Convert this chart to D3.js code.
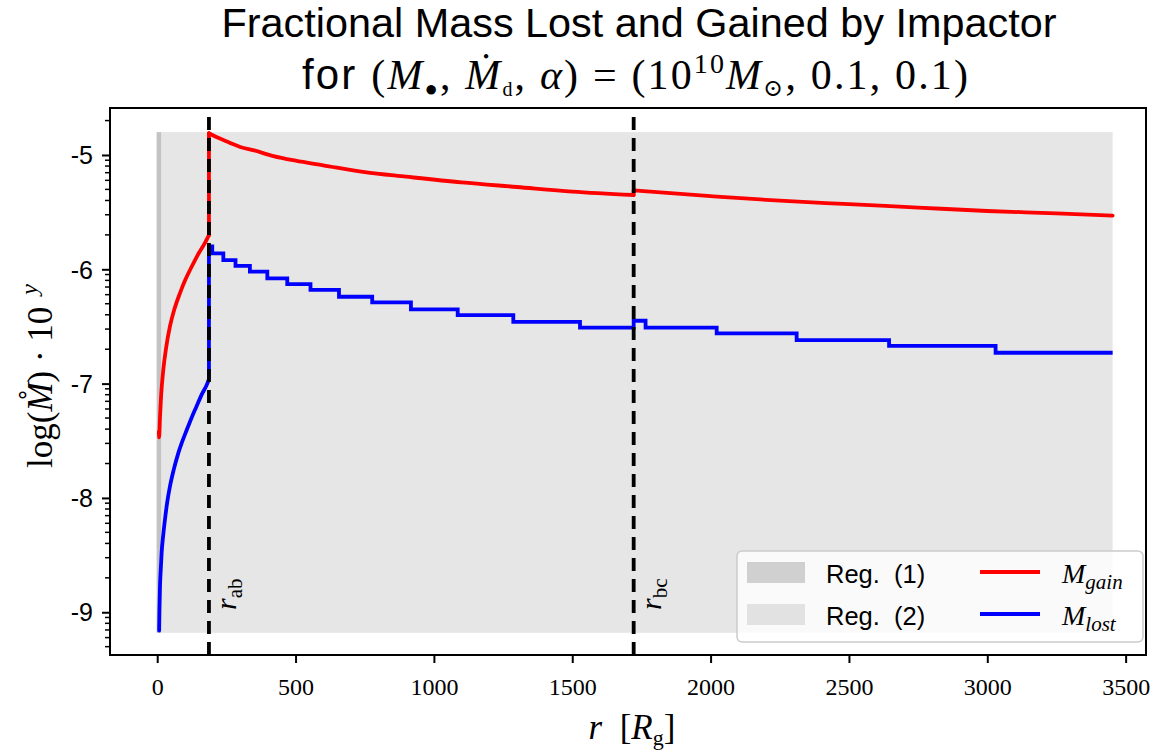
<!DOCTYPE html>
<html><head><meta charset="utf-8">
<script src="https://cdn.jsdelivr.net/npm/d3@7"></script>
<style>body{margin:0;background:#fff}</style>
</head><body><svg id="c" width="1167" height="753"></svg>
<script>
// ---- data ----
const xTicks = [0, 500, 1000, 1500, 2000, 2500, 3000, 3500];
const yTicks = [-9, -8, -7, -6, -5];
const yTickLabels = ["-9", "-8", "-7", "-6", "-5"];
const rAB = 187, rBC = 1722;
const region1R = [-2, 14];
const region2R = [-2, 3453];
const regionV = [-9.18, -4.80];
// M_gain: inner part (r < r_ab) and outer part
const gainInnerR = [6, 7, 10, 14, 22, 32, 46, 62, 82, 102, 124, 150, 170, 187];
const gainInnerV = [-7.42, -7.47, -7.30, -7.11, -6.88, -6.69, -6.50, -6.35, -6.21, -6.09, -5.98, -5.86, -5.78, -5.70];
const gainOuterR = [187, 187, 220, 260, 300, 350, 420, 500, 600, 750, 900, 1100, 1300, 1500, 1722, 1722, 2000, 2250, 2500, 2750, 3000, 3250, 3453];
const gainOuterV = [-5.70, -4.81, -4.85, -4.89, -4.93, -4.96, -5.01, -5.05, -5.09, -5.15, -5.19, -5.24, -5.28, -5.32, -5.35, -5.31, -5.36, -5.40, -5.43, -5.46, -5.49, -5.51, -5.53];
// M_lost: inner curve and outer staircase
const lostInnerR = [7, 8, 10, 13, 16, 22, 28, 36, 46, 60, 76, 90, 106, 124, 142, 162, 181, 187];
const lostInnerV = [-9.16, -9.00, -8.78, -8.62, -8.48, -8.32, -8.19, -8.04, -7.90, -7.75, -7.61, -7.51, -7.41, -7.30, -7.20, -7.09, -7.00, -6.96];
const lostStepR = [187, 187, 199, 239, 283, 335, 398, 470, 554, 657, 777, 917, 1086, 1287, 1528, 1722, 1765, 2022, 2311, 2645, 3030, 3453];
const lostStepV = [-6.96, -5.80, -5.86, -5.92, -5.97, -6.02, -6.08, -6.13, -6.18, -6.24, -6.29, -6.35, -6.40, -6.46, -6.51, -6.45, -6.51, -6.56, -6.62, -6.67, -6.73, -6.73];

// ---- layout ----
const svg = d3.select("#c");
const L = 110, R = 1146, T = 108, B = 655;
const x = d3.scaleLinear().domain([-170.6, 3573.6]).range([L, R]);
const y = d3.scaleLinear().domain([-9.374, -4.589]).range([B, T]);
const SERIF = "'Liberation Serif', 'DejaVu Serif', serif";
const SANS = "'Liberation Sans', 'DejaVu Sans', sans-serif";
const LW = 3.8;

// regions
svg.append("rect").attr("x", x(region2R[0])).attr("width", x(region2R[1]) - x(region2R[0]))
  .attr("y", y(regionV[1])).attr("height", y(regionV[0]) - y(regionV[1]))
  .attr("fill", "#808080").attr("fill-opacity", 0.2);
svg.append("rect").attr("x", x(region1R[0])).attr("width", x(region1R[1]) - x(region1R[0]))
  .attr("y", y(regionV[1])).attr("height", y(regionV[0]) - y(regionV[1]))
  .attr("fill", "#808080").attr("fill-opacity", 0.35);

const zip = (a, b) => a.map((v, i) => [v, b[i]]);
const smooth = d3.line().x(d => x(d[0])).y(d => y(d[1])).curve(d3.curveMonotoneX);
const straight = d3.line().x(d => x(d[0])).y(d => y(d[1]));
const stp = d3.line().x(d => x(d[0])).y(d => y(d[1])).curve(d3.curveStepAfter);
// draw a series: smooth runs where r increases, straight vertical jumps where r repeats
function drawSeries(g, pts, color) {
  let run = [pts[0]];
  for (let i = 1; i < pts.length; i++) {
    if (pts[i][0] === pts[i - 1][0]) {
      if (run.length > 1) g.append("path").attr("d", smooth(run)).attr("stroke", color);
      g.append("path").attr("d", straight([pts[i - 1], pts[i]])).attr("stroke", color);
      run = [pts[i]];
    } else run.push(pts[i]);
  }
  if (run.length > 1) g.append("path").attr("d", smooth(run)).attr("stroke", color);
}
const g = svg.append("g").attr("fill", "none").attr("stroke-width", LW).attr("stroke-linejoin", "round").attr("stroke-linecap", "round");
drawSeries(g, zip(gainInnerR, gainInnerV), "#ff0000");
drawSeries(g, zip(gainOuterR, gainOuterV), "#ff0000");
drawSeries(g, zip(lostInnerR, lostInnerV), "#0000ff");
g.append("path").attr("d", stp(zip(lostStepR, lostStepV))).attr("stroke", "#0000ff").attr("stroke-linecap", "butt").attr("stroke-linejoin", "miter");

// dashed vertical lines
[rAB, rBC].forEach(r => {
  svg.append("line").attr("x1", x(r)).attr("x2", x(r)).attr("y1", B).attr("y2", T)
    .attr("stroke", "#000").attr("stroke-width", 3.8).attr("stroke-dasharray", "13,8");
});
// labels r_ab, r_bc
[[rAB, "ab"], [rBC, "bc"]].forEach(([r, s]) => {
  const t = svg.append("text").attr("transform", `translate(${x(r) + 27},610) rotate(-90)`)
    .attr("font-family", SERIF).attr("font-size", 30);
  t.append("tspan").attr("font-style", "italic").text("r");
  t.append("tspan").attr("font-size", 21).attr("dy", 6).text(s);
});

// frame
svg.append("rect").attr("x", L).attr("y", T).attr("width", R - L).attr("height", B - T)
  .attr("fill", "none").attr("stroke", "#000").attr("stroke-width", 2);

// x axis
const xa = svg.append("g").attr("transform", `translate(0,${B})`)
  .call(d3.axisBottom(x).tickValues(xTicks).tickSize(8).tickSizeOuter(0).tickFormat(d3.format("d")));
xa.select(".domain").remove();
xa.selectAll("line").attr("stroke-width", 2);
xa.selectAll("text").attr("font-family", SERIF).attr("font-size", 24).attr("dy", 0).attr("y", 40).attr("fill", "#000");

// y axis
const ya = svg.append("g").attr("transform", `translate(${L},0)`)
  .call(d3.axisLeft(y).tickValues(yTicks).tickSize(8).tickSizeOuter(0).tickFormat((d, i) => yTickLabels[i]));
ya.select(".domain").remove();
ya.selectAll("line").attr("stroke-width", 2);
ya.selectAll("text").attr("font-family", SANS).attr("font-size", 25).attr("x", -17).attr("dy", "0.35em").attr("fill", "#000");
// minor log ticks
const minor = [];
for (let n = -10; n <= -5; n++) for (let k = 2; k <= 9; k++) {
  const v = n + Math.log10(k);
  if (v > y.domain()[0] && v < y.domain()[1]) minor.push(v);
}
svg.append("g").selectAll("line").data(minor).join("line")
  .attr("x1", L - 5).attr("x2", L).attr("y1", d => y(d)).attr("y2", d => y(d))
  .attr("stroke", "#000").attr("stroke-width", 1.5);

// axis labels
const xl = svg.append("text").attr("x", 632).attr("y", 739).attr("text-anchor", "middle")
  .attr("font-family", SERIF).attr("font-size", 35).attr("xml:space", "preserve");
xl.append("tspan").attr("font-style", "italic").text("r");
xl.append("tspan").text("  [");
xl.append("tspan").attr("font-style", "italic").text("R");
xl.append("tspan").attr("font-size", 22).attr("dy", 6).text("g");
xl.append("tspan").attr("dy", -6).text("]");

const yl = svg.append("text").attr("transform", "translate(52,376) rotate(-90)").attr("text-anchor", "middle")
  .attr("font-family", SERIF).attr("font-size", 35).attr("xml:space", "preserve");
yl.append("tspan").text("log(");
yl.append("tspan").attr("font-style", "italic").text("M\u030A");
yl.append("tspan").text(") \u00B7 10");
yl.append("tspan").attr("font-style", "italic").attr("font-size", 24).attr("dy", -15).text("  y");

// title
svg.append("text").attr("x", 639).attr("y", 37).attr("text-anchor", "middle")
  .attr("font-family", SANS).attr("font-size", 40).attr("textLength", 835).attr("lengthAdjust", "spacingAndGlyphs")
  .text("Fractional Mass Lost and Gained by Impactor");
const t2 = svg.append("text").attr("x", 635).attr("y", 89).attr("text-anchor", "middle")
  .attr("font-family", SERIF).attr("font-size", 42).attr("textLength", 666).attr("lengthAdjust", "spacing")
  .attr("xml:space", "preserve");
t2.append("tspan").attr("font-family", SANS).text("for ");
t2.append("tspan").text("(");
t2.append("tspan").attr("font-style", "italic").text("M");
t2.append("tspan").attr("font-size", 22).attr("dy", 7).text("\u25CF");
t2.append("tspan").attr("dy", -7).text(", ");
t2.append("tspan").attr("font-style", "italic").text("M\u0307");
t2.append("tspan").attr("font-size", 20).attr("dy", 7).text("d");
t2.append("tspan").attr("dy", -7).text(", ");
t2.append("tspan").attr("font-style", "italic").text("\u03B1");
t2.append("tspan").text(") = (10");
t2.append("tspan").attr("font-size", 28).attr("dy", -16).text("10");
t2.append("tspan").attr("dy", 16).attr("font-style", "italic").text("M");
t2.append("tspan").attr("font-size", 24).attr("dy", 7).text("\u2299");
t2.append("tspan").attr("dy", -7).text(", 0.1, 0.1)");

// legend
const lg = svg.append("g");
lg.append("rect").attr("x", 737).attr("y", 551).attr("width", 406).attr("height", 91).attr("rx", 5)
  .attr("fill", "#fff").attr("fill-opacity", 0.8).attr("stroke", "#cccccc").attr("stroke-width", 1.5);
const patches = [["Reg.  (1)", 0.35], ["Reg.  (2)", 0.2]];
patches.forEach(([lab, op], i) => {
  const yy = 562 + i * 42;
  lg.append("rect").attr("x", 747).attr("y", yy).attr("width", 58).attr("height", 21).attr("fill", "#808080").attr("fill-opacity", op);
  lg.append("text").attr("x", 826).attr("y", yy + 21).attr("font-family", SANS).attr("font-size", 25.5).attr("xml:space", "preserve").text(lab);
});
const ls = [["gain", "#ff0000"], ["lost", "#0000ff"]];
ls.forEach(([sub, c], i) => {
  const yy = 572 + i * 42;
  lg.append("line").attr("x1", 980).attr("x2", 1040).attr("y1", yy).attr("y2", yy).attr("stroke", c).attr("stroke-width", LW);
  const tx = lg.append("text").attr("x", 1062).attr("y", yy + 11).attr("font-family", SERIF).attr("font-size", 28).attr("font-style", "italic");
  tx.append("tspan").text("M");
  tx.append("tspan").attr("font-size", 21).attr("dy", 6).text(sub);
});
</script></body></html>
